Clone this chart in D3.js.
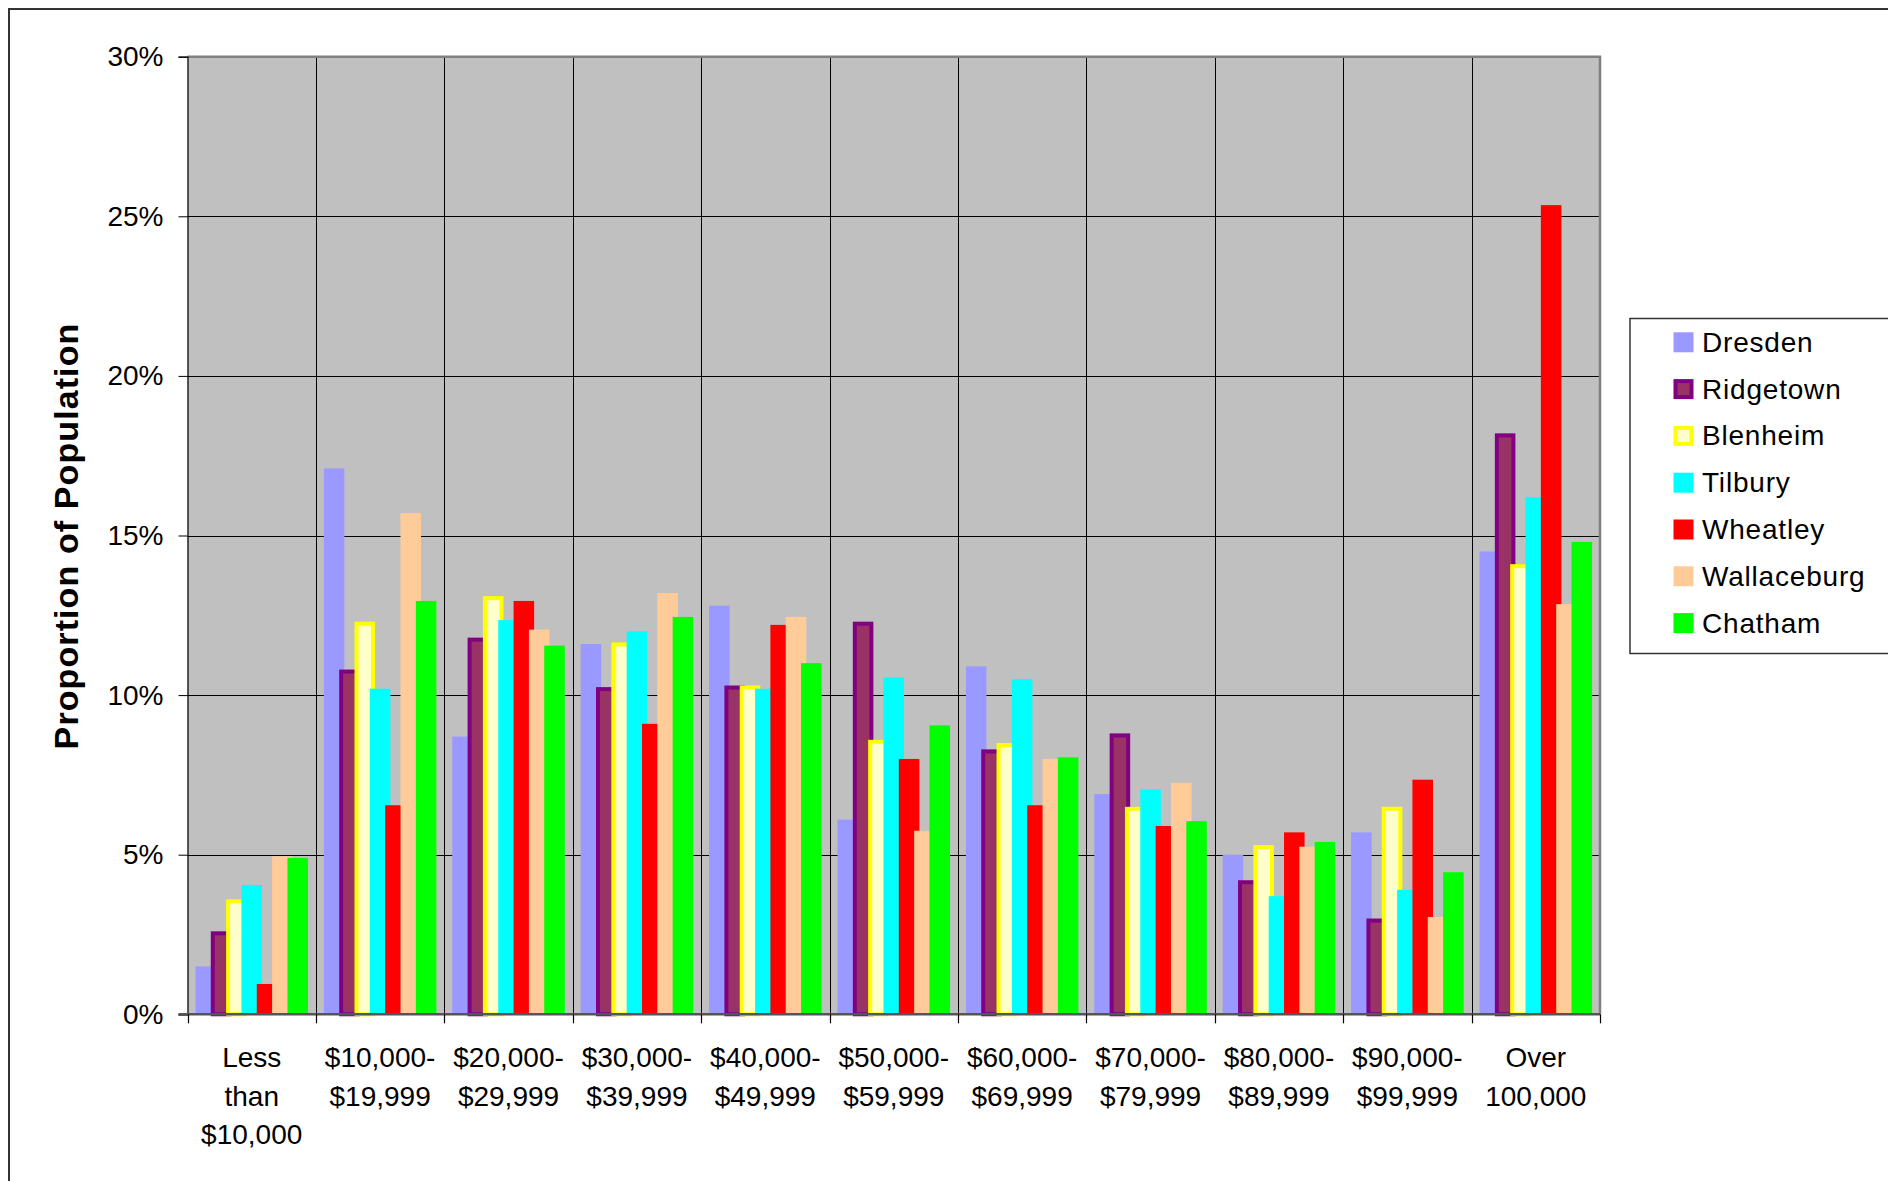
<!DOCTYPE html>
<html>
<head>
<meta charset="utf-8">
<script src="https://cdn.jsdelivr.net/npm/d3@7"></script>
<style>
  html, body { margin: 0; padding: 0; background: #ffffff; }
  svg { display: block; }
  text { font-family: "Liberation Sans", Arial, sans-serif; fill: #000; }
</style>
</head>
<body>
<svg id="chart" width="1888" height="1181"></svg>
<script>
// ---------- data ----------
const categories = [
  "Less than $10,000", "$10,000-$19,999", "$20,000-$29,999", "$30,000-$39,999",
  "$40,000-$49,999", "$50,000-$59,999", "$60,000-$69,999", "$70,000-$79,999",
  "$80,000-$89,999", "$90,000-$99,999", "Over 100,000"
];
const categoryLines = [
  ["Less", "than", "$10,000"], ["$10,000-", "$19,999"], ["$20,000-", "$29,999"],
  ["$30,000-", "$39,999"], ["$40,000-", "$49,999"], ["$50,000-", "$59,999"],
  ["$60,000-", "$69,999"], ["$70,000-", "$79,999"], ["$80,000-", "$89,999"],
  ["$90,000-", "$99,999"], ["Over", "100,000"]
];
const seriesNames = ["Dresden", "Ridgetown", "Blenheim", "Tilbury", "Wheatley", "Wallaceburg", "Chatham"];
const dresden     = [1.5, 17.1, 8.7, 11.6, 12.8, 6.1, 10.9, 6.9, 5.0, 5.7, 14.5];
const ridgetown   = [2.6, 10.8, 11.8, 10.25, 10.3, 12.3, 8.3, 8.8, 4.2, 3.0, 18.2];
const blenheim    = [3.6, 12.3, 13.1, 11.65, 10.3, 8.6, 8.5, 6.5, 5.3, 6.5, 14.1];
const tilbury     = [4.05, 10.2, 12.35, 12.0, 10.2, 10.55, 10.5, 7.05, 3.7, 3.9, 16.2];
const wheatley    = [0.95, 6.55, 12.95, 9.1, 12.2, 8.0, 6.55, 5.9, 5.7, 7.35, 25.35];
const wallaceburg = [4.95, 15.7, 12.05, 13.2, 12.45, 5.75, 8.0, 7.25, 5.25, 3.05, 12.85];
const chatham     = [4.9, 12.95, 11.55, 12.45, 11.0, 9.05, 8.05, 6.05, 5.4, 4.45, 14.8];
const seriesValues = [dresden, ridgetown, blenheim, tilbury, wheatley, wallaceburg, chatham];
const yTicks = [0, 5, 10, 15, 20, 25, 30];
const yTitle = "Proportion of Population";

// ---------- styles ----------
const fills   = ["#9999FF", "#993366", "#FFFFCC", "#00FFFF", "#FF0000", "#FFCC99", "#00FF00"];
const strokes = [null, "#800080", "#FFFF00", null, null, null, null];

const svg = d3.select("#chart");
const plot = { left: 187.5, right: 1600, top: 56.7, bottom: 1014.3 };

// outer chart border
svg.append("rect")
  .attr("x", 9).attr("y", 9).attr("width", 2000).attr("height", 1400)
  .attr("fill", "none").attr("stroke", "#333").attr("stroke-width", 2);

const x = d3.scaleBand().domain(categories).range([plot.left, plot.right]).padding(0);
const y = d3.scaleLinear().domain([0, 30]).range([plot.bottom, plot.top]);
const bw = x.bandwidth();
const stride = bw * 0.1194;
const barW = bw * 0.16;
const offset = (bw - (6 * stride + barW)) / 2;

// plot background
svg.append("rect")
  .attr("x", plot.left).attr("y", plot.top)
  .attr("width", plot.right - plot.left).attr("height", plot.bottom - plot.top)
  .attr("fill", "#C0C0C0");

// horizontal gridlines
svg.append("g")
  .selectAll("line").data(yTicks.filter(d => d > 0 && d < 30)).join("line")
  .attr("x1", plot.left).attr("x2", plot.right)
  .attr("y1", d => Math.round(y(d)) + 0.5).attr("y2", d => Math.round(y(d)) + 0.5)
  .attr("stroke", "#000").attr("stroke-width", 1);

// vertical gridlines (category boundaries)
const boundaries = categories.map(c => x(c)).concat([plot.right]);
svg.append("g")
  .selectAll("line").data(boundaries.slice(1, -1)).join("line")
  .attr("x1", d => Math.round(d) + 0.5).attr("x2", d => Math.round(d) + 0.5)
  .attr("y1", plot.top).attr("y2", plot.bottom)
  .attr("stroke", "#000").attr("stroke-width", 1);

// bars
const sw = 4;
seriesValues.forEach((vals, si) => {
  const g = svg.append("g").attr("class", "series-" + si);
  g.selectAll("rect").data(vals).join("rect")
    .attr("x", (d, i) => x(categories[i]) + offset + si * stride + (strokes[si] ? sw / 2 : 0))
    .attr("y", d => y(d) + (strokes[si] ? sw / 2 : 0))
    .attr("width", barW - (strokes[si] ? sw : 0))
    .attr("height", d => y(0) - y(d) - (strokes[si] ? sw / 2 : 0))
    .attr("fill", fills[si])
    .attr("stroke", strokes[si] || "none")
    .attr("stroke-width", strokes[si] ? sw : 0);
});

// plot area top/right border
svg.append("path")
  .attr("d", `M${plot.left},${plot.top}H${plot.right}V${plot.bottom}`)
  .attr("fill", "none").attr("stroke", "#808080").attr("stroke-width", 2.5);

// y axis
const yAxis = d3.axisLeft(y).tickValues(yTicks).tickFormat(d => d + "%").tickSize(9).tickPadding(15);
const gy = svg.append("g").attr("transform", `translate(${plot.left},0)`).call(yAxis);
gy.select(".domain").attr("stroke", "#000").attr("stroke-width", 1.2);
gy.selectAll(".tick line").attr("stroke", "#000");
gy.selectAll(".tick text")
  .attr("font-family", "'Liberation Sans', Arial, sans-serif")
  .attr("font-size", 28).attr("fill", "#000");

// x axis line
svg.append("line")
  .attr("x1", plot.left - 9).attr("x2", plot.right)
  .attr("y1", plot.bottom).attr("y2", plot.bottom)
  .attr("stroke", "#555").attr("stroke-width", 2.5);

// x ticks at boundaries
svg.append("g")
  .selectAll("line").data(boundaries).join("line")
  .attr("x1", d => Math.round(d) + 0.5).attr("x2", d => Math.round(d) + 0.5)
  .attr("y1", plot.bottom).attr("y2", plot.bottom + 9)
  .attr("stroke", "#000").attr("stroke-width", 1.2);

// x labels
const xl = svg.append("g").selectAll("text").data(categories).join("text")
  .attr("text-anchor", "middle")
  .attr("font-size", 28)
  .attr("x", d => x(d) + bw / 2)
  .attr("y", 1067);
xl.each(function(d, i) {
  d3.select(this).selectAll("tspan").data(categoryLines[i]).join("tspan")
    .attr("x", x(d) + bw / 2)
    .attr("dy", (t, j) => j === 0 ? 0 : 38.5)
    .text(t => t);
});

// y title
svg.append("text")
  .attr("transform", `translate(78,536) rotate(-90)`)
  .attr("text-anchor", "middle")
  .attr("font-size", 34).attr("font-weight", "bold")
  .attr("letter-spacing", 1.1)
  .text(yTitle);

// legend
const lg = svg.append("g");
lg.append("rect")
  .attr("x", 1630).attr("y", 318.5).attr("width", 400).attr("height", 335)
  .attr("fill", "#fff").attr("stroke", "#333").attr("stroke-width", 1.5);
seriesNames.forEach((name, i) => {
  const cy = 342.3 + i * 46.8;
  const s = strokes[i];
  lg.append("rect")
    .attr("x", 1673.5 + (s ? 2 : 0)).attr("y", cy - 10 + (s ? 2 : 0))
    .attr("width", 20 - (s ? 4 : 0)).attr("height", 20 - (s ? 4 : 0))
    .attr("fill", fills[i])
    .attr("stroke", s || "none").attr("stroke-width", s ? 4 : 0);
  lg.append("text")
    .attr("x", 1702).attr("y", cy + 9.5)
    .attr("font-size", 28)
    .attr("letter-spacing", 0.8)
    .text(name);
});
</script>
</body>
</html>
